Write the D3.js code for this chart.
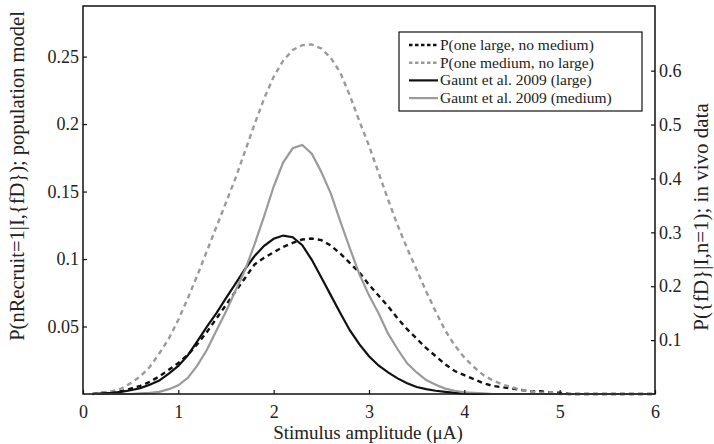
<html>
<head>
<meta charset="utf-8">
<title>Recruitment probability vs stimulus amplitude</title>
<style>
  body { margin: 0; background: #fff; }
  svg text { font-family: "Liberation Serif", "DejaVu Serif", serif; fill: #222; }
</style>
</head>
<body>
<svg id="chart" width="714" height="444"></svg>
<script src="https://cdnjs.cloudflare.com/ajax/libs/d3/7.8.5/d3.min.js"></script>
<script>
// stimulus amplitude (uA), sampled every 0.1 from 0.1 to 6.0
var amps = d3.range(1, 61).map(function (i) { return i / 10; });

// population model (left axis)
var modelLarge = [
  0.000, 0.001, 0.001, 0.002, 0.004, 0.006, 0.009, 0.013, 0.018, 0.023,
  0.029, 0.037, 0.046, 0.056, 0.066, 0.076, 0.086, 0.096, 0.101, 0.105,
  0.109, 0.112, 0.1145, 0.1152, 0.114, 0.110, 0.104, 0.097, 0.090, 0.081,
  0.073, 0.065, 0.056, 0.048, 0.041, 0.034, 0.028, 0.022, 0.017, 0.014,
  0.011, 0.008, 0.006, 0.005, 0.004, 0.003, 0.002, 0.002, 0.001, 0.001,
  0.000, 0.000, 0.000, 0.000, 0.000, 0.000, 0.000, 0.000, 0.000, 0.000
];
var modelMedium = [
  0.000, 0.001, 0.002, 0.004, 0.008, 0.013, 0.020, 0.030, 0.041, 0.055,
  0.071, 0.088, 0.106, 0.124, 0.142, 0.160, 0.180, 0.200, 0.219, 0.235,
  0.247, 0.255, 0.2585, 0.259, 0.256, 0.249, 0.238, 0.221, 0.202, 0.184,
  0.164, 0.144, 0.125, 0.108, 0.092, 0.076, 0.061, 0.047, 0.036, 0.027,
  0.020, 0.014, 0.010, 0.007, 0.005, 0.003, 0.002, 0.001, 0.001, 0.000,
  0.000, 0.000, 0.000, 0.000, 0.000, 0.000, 0.000, 0.000, 0.000, 0.000
];

// Gaunt et al. 2009 in vivo data (right axis)
var gauntLarge = [
  0.000, 0.001, 0.002, 0.004, 0.007, 0.011, 0.017, 0.025, 0.038, 0.052,
  0.072, 0.098, 0.125, 0.150, 0.178, 0.205, 0.232, 0.256, 0.275, 0.288,
  0.294, 0.291, 0.276, 0.249, 0.216, 0.183, 0.150, 0.118, 0.092, 0.070,
  0.053, 0.040, 0.029, 0.020, 0.013, 0.009, 0.006, 0.004, 0.002, 0.001,
  0.000, 0.000, 0.000, 0.000, 0.000, 0.000, 0.000, 0.000, 0.000, 0.000,
  0.000, 0.000, 0.000, 0.000, 0.000, 0.000, 0.000, 0.000, 0.000, 0.000
];
var gauntMedium = [
  0.000, 0.000, 0.000, 0.000, 0.000, 0.001, 0.002, 0.004, 0.009, 0.016,
  0.030, 0.053, 0.082, 0.118, 0.153, 0.192, 0.230, 0.278, 0.330, 0.385,
  0.430, 0.456, 0.462, 0.446, 0.412, 0.372, 0.320, 0.270, 0.222, 0.183,
  0.150, 0.112, 0.083, 0.057, 0.040, 0.026, 0.017, 0.010, 0.006, 0.003,
  0.002, 0.001, 0.000, 0.000, 0.000, 0.000, 0.000, 0.000, 0.000, 0.000,
  0.000, 0.000, 0.000, 0.000, 0.000, 0.000, 0.000, 0.000, 0.000, 0.000
];

var xTicks = [0, 1, 2, 3, 4, 5, 6];
var leftTicks = [0.05, 0.1, 0.15, 0.2, 0.25];
var rightTicks = [0.1, 0.2, 0.3, 0.4, 0.5, 0.6];
var legendLabels = [
  "P(one large, no medium)",
  "P(one medium, no large)",
  "Gaunt et al. 2009 (large)",
  "Gaunt et al. 2009 (medium)"
];

var svg = d3.select("#chart");
var plotL = 83, plotR = 655, plotT = 6, plotB = 394;

var x = d3.scaleLinear().domain([0, 6]).range([plotL, plotR]);
var yL = d3.scaleLinear().domain([0, 0.2875]).range([plotB, plotT]);
var yR = d3.scaleLinear().domain([0, 0.72]).range([plotB, plotT]);

var black = "#111", grey = "#9a9a9a";
var series = [
  { vals: modelLarge, y: yL, color: black, dash: "5,4", width: 2.4 },
  { vals: modelMedium, y: yL, color: grey, dash: "5,4", width: 2.4 },
  { vals: gauntLarge, y: yR, color: black, dash: null, width: 2.2 },
  { vals: gauntMedium, y: yR, color: grey, dash: null, width: 2.2 }
];

series.forEach(function (s) {
  var line = d3.line()
    .x(function (d, i) { return x(amps[i]); })
    .y(function (d) { return s.y(d); });
  svg.append("path")
    .datum(s.vals)
    .attr("d", line)
    .attr("fill", "none")
    .attr("stroke", s.color)
    .attr("stroke-width", s.width)
    .attr("stroke-dasharray", s.dash);
});

// axes, ticks pointing inwards
var xAxis = svg.append("g").attr("transform", "translate(0," + plotB + ")")
  .call(d3.axisBottom(x).tickValues(xTicks).tickSize(-4).tickPadding(11).tickFormat(d3.format("d")));
var lAxis = svg.append("g").attr("transform", "translate(" + plotL + ",0)")
  .call(d3.axisLeft(yL).tickValues(leftTicks).tickSize(-4).tickPadding(4).tickFormat(d3.format("")));
var rAxis = svg.append("g").attr("transform", "translate(" + plotR + ",0)")
  .call(d3.axisRight(yR).tickValues(rightTicks).tickSize(-4).tickPadding(4).tickFormat(d3.format("")));

[xAxis, lAxis, rAxis].forEach(function (a) {
  a.select(".domain").remove();
  a.selectAll(".tick line").attr("stroke", black).attr("stroke-width", 1.2);
  a.selectAll(".tick text")
    .attr("font-size", 18)
    .attr("fill", "#222");
});

svg.append("rect")
  .attr("x", plotL).attr("y", plotT)
  .attr("width", plotR - plotL).attr("height", plotB - plotT)
  .attr("fill", "none").attr("stroke", black).attr("stroke-width", 1.5);

// axis titles
svg.append("text")
  .attr("x", 368).attr("y", 439)
  .attr("text-anchor", "middle").attr("font-size", 19)
  .text("Stimulus amplitude (\u03bcA)");

svg.append("text")
  .attr("transform", "translate(24,176) rotate(-90)")
  .attr("text-anchor", "middle").attr("font-size", 20.5)
  .text("P(nRecruit=1|I,{fD}); population model");

svg.append("text")
  .attr("transform", "translate(708,217) rotate(-90)")
  .attr("text-anchor", "middle").attr("font-size", 21)
  .text("P({fD}|I,n=1); in vivo data");

// legend
var lg = svg.append("g");
lg.append("rect")
  .attr("x", 399).attr("y", 32).attr("width", 243).attr("height", 79)
  .attr("fill", "#fff").attr("stroke", black).attr("stroke-width", 1.2);

series.forEach(function (s, i) {
  var yy = 45 + i * 17.7;
  lg.append("line")
    .attr("x1", 409).attr("x2", 438).attr("y1", yy).attr("y2", yy)
    .attr("stroke", s.color).attr("stroke-width", s.dash ? 2.4 : 2.2)
    .attr("stroke-dasharray", s.dash ? "3.5,2.5" : null);
  lg.append("text")
    .attr("x", 440).attr("y", yy + 5)
    .attr("font-size", 15.5)
    .text(legendLabels[i]);
});
</script>
</body>
</html>
